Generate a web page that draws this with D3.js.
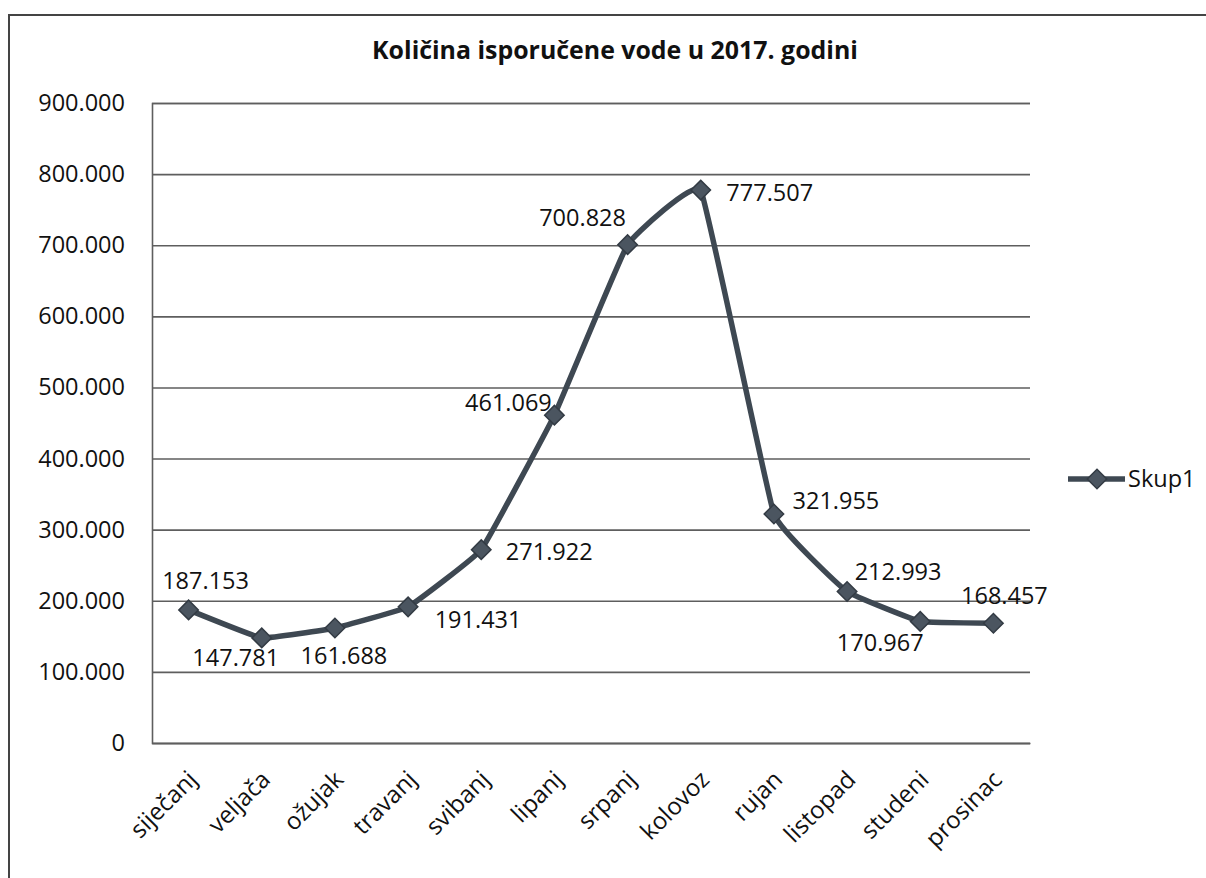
<!DOCTYPE html>
<html>
<head>
<meta charset="utf-8">
<script src="https://cdn.jsdelivr.net/npm/d3@7"></script>
<style>
  html, body { margin: 0; padding: 0; background: #fff; }
  svg { display: block; }
  text { font-family: "Open Sans", sans-serif; fill: #111; }
</style>
</head>
<body>
<svg id="chart" width="1206" height="878"></svg>
<script>
// ---- data ----
const titleText = "Količina isporučene vode u 2017. godini";
const months = ["siječanj", "veljača", "ožujak", "travanj", "svibanj", "lipanj",
                "srpanj", "kolovoz", "rujan", "listopad", "studeni", "prosinac"];
const values = [187153, 147781, 161688, 191431, 271922, 461069,
                700828, 777507, 321955, 212993, 170967, 168457];
const seriesName = "Skup1";
const yTicks = [0, 100000, 200000, 300000, 400000, 500000, 600000, 700000, 800000, 900000];

// data-label placement (offset of label centre from its point), layout only
const labelOffsets = [[17, -29], [-26, 20], [9, 28], [70, 13], [68, 2], [-46, -13],
                      [-45, -27], [69, 2], [62, -14], [51, -20], [-40, 21], [11, -28]];

// ---- layout ----
const plot = { left: 152, right: 1030, top: 103, bottom: 743 };
const lineColor = "#3e4852";
const gridColor = "#5e5e5e";

const svg = d3.select("#chart");
const hr = d3.formatLocale({ decimal: ",", thousands: ".", grouping: [3], currency: ["", " kn"] });
const fmt = hr.format(",d");

// outer chart frame (extends past the photographed region)
svg.append("rect")
  .attr("x", 9).attr("y", 15).attr("width", 1400).attr("height", 1200)
  .attr("fill", "none").attr("stroke", "#444").attr("stroke-width", 2);

const x = d3.scaleBand().domain(months).range([plot.left, plot.right]).padding(0);
const y = d3.scaleLinear().domain([0, 900000]).range([plot.bottom, plot.top]);
const cx = m => x(m) + x.bandwidth() / 2;

// gridlines
const yAxis = d3.axisLeft(y).tickValues(yTicks).tickFormat(fmt)
  .tickSize(-(plot.right - plot.left)).tickPadding(27);
const gy = svg.append("g").attr("transform", `translate(${plot.left},0)`).call(yAxis);
gy.select(".domain").attr("stroke", gridColor).attr("stroke-width", 1.6);
gy.selectAll(".tick line").attr("stroke", gridColor).attr("stroke-width", 1.6);
gy.selectAll(".tick text")
  .attr("font-size", 23.5).attr("font-family", "Open Sans, sans-serif").attr("fill", "#111");

// x axis
const xAxis = d3.axisBottom(x).tickSize(0).tickFormat(d => d);
const gx = svg.append("g").attr("transform", `translate(0,${plot.bottom})`).call(xAxis);
gx.select(".domain").attr("stroke", gridColor).attr("stroke-width", 1.6);
gx.selectAll(".tick text")
  .attr("font-size", 24).attr("font-family", "Open Sans, sans-serif").attr("fill", "#111")
  .attr("text-anchor", "end")
  .attr("dy", null).attr("y", null)
  .attr("transform", "translate(10,38) rotate(-45)");

// title
const title = svg.append("text")
  .attr("x", 615).attr("y", 59).attr("text-anchor", "middle")
  .attr("font-weight", "bold").attr("font-size", 22).text(titleText);
const tw = title.node().getComputedTextLength();
title.attr("font-size", 22 * 486 / tw);

// line
const pts = months.map((m, i) => [cx(m), y(values[i])]);
svg.append("path")
  .attr("d", d3.line().curve(d3.curveCardinal.tension(0.75))(pts))
  .attr("fill", "none").attr("stroke", lineColor).attr("stroke-width", 5.5)
  .attr("stroke-linejoin", "round");

// markers
const diamond = d3.symbol().type(d3.symbolSquare).size(190);
svg.append("g").selectAll("path").data(pts).join("path")
  .attr("d", diamond)
  .attr("transform", d => `translate(${d[0]},${d[1]}) rotate(45)`)
  .attr("fill", "#4b5560").attr("stroke", "#333b44").attr("stroke-width", 1.5);

// data labels
svg.append("g").selectAll("text").data(values).join("text")
  .attr("x", (d, i) => pts[i][0] + labelOffsets[i][0])
  .attr("y", (d, i) => pts[i][1] + labelOffsets[i][1])
  .attr("dy", "0.36em")
  .attr("text-anchor", "middle")
  .attr("font-size", 23.5)
  .text(d => fmt(d));

// legend
const lg = svg.append("g").attr("transform", "translate(1068,479)");
lg.append("line").attr("x1", 0).attr("x2", 57).attr("y1", 0).attr("y2", 0)
  .attr("stroke", lineColor).attr("stroke-width", 5.5);
lg.append("path").attr("d", diamond).attr("transform", "translate(29,0) rotate(45)")
  .attr("fill", "#4b5560").attr("stroke", "#333b44").attr("stroke-width", 1.5);
lg.append("text").attr("x", 60).attr("y", 0).attr("dy", "0.36em")
  .attr("font-size", 23.5).text(seriesName);
</script>
</body>
</html>
